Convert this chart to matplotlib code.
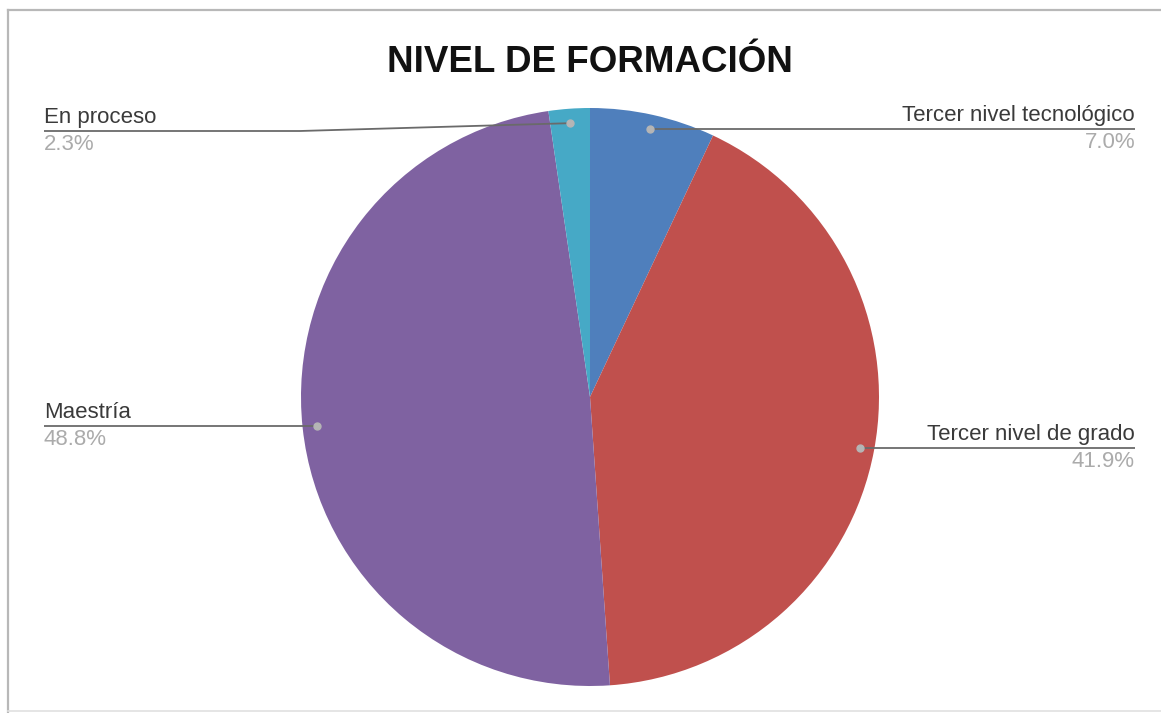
import numpy as np
import matplotlib
matplotlib.use("Agg")
import matplotlib.pyplot as plt

plt.rcParams["font.family"] = ["Liberation Sans", "DejaVu Sans"]

title = "NIVEL DE FORMACIÓN"
categories = ["Tercer nivel tecnológico", "Tercer nivel de grado", "Maestría", "En proceso"]
shares = [7.0, 41.9, 48.8, 2.3]
colors = ["#4f7fbc", "#c0504d", "#7f62a1", "#46a9c6"]

W, H = 1161, 713
cx, cy, R = 590, H - 397, 289

# label placement: side, y of leader line (image px); None = level with the dot
label_side = ["right", "right", "left", "left"]
label_line_y = [None, None, None, 131]

fig = plt.figure(figsize=(W / 100, H / 100), dpi=100)
ax = fig.add_axes([0, 0, 1, 1])

wedges, _ = ax.pie(
    shares,
    colors=colors,
    startangle=90,
    counterclock=False,
    center=(cx, cy),
    radius=R,
    wedgeprops=dict(linewidth=0),
)

ax.set_xlim(0, W)
ax.set_ylim(0, H)
ax.set_aspect("equal")
ax.axis("off")

ax.text(590, H - 62, title, ha="center", va="center", fontsize=26.5,
        fontweight="bold", color="#111111")

for wedge, name, share, side, ly in zip(wedges, categories, shares, label_side, label_line_y):
    mid = np.deg2rad((wedge.theta1 + wedge.theta2) / 2)
    dx = cx + 0.95 * R * np.cos(mid)
    dy = cy + 0.95 * R * np.sin(mid)
    ly = dy if ly is None else H - ly
    if side == "right":
        end_x, ha = 1135, "right"
        xs = [dx, end_x]
        ys = [dy, ly]
    else:
        end_x, ha = 44, "left"
        xs = [dx, 300, end_x]
        ys = [dy, ly, ly]
    ax.plot(xs, ys, color="#6a6a6a", linewidth=1.3, solid_capstyle="butt", zorder=3)
    ax.plot([dx], [dy], "o", color="#b5b5b5", markersize=5, zorder=4)
    ax.text(end_x, ly + 3, name, ha=ha, va="bottom", fontsize=16, color="#3a3a3a")
    ax.text(end_x, ly - 3, f"{share:.1f}%", ha=ha, va="top", fontsize=16, color="#ababab")

# outer frame
ax.plot([8, W], [H - 10, H - 10], color="#b8b8b8", linewidth=1.6)
ax.plot([8, 8], [H - 10, 0], color="#b8b8b8", linewidth=1.6)
ax.plot([8, W], [2, 2], color="#e0e0e0", linewidth=1.2)

fig.savefig("out.png", dpi=100)
